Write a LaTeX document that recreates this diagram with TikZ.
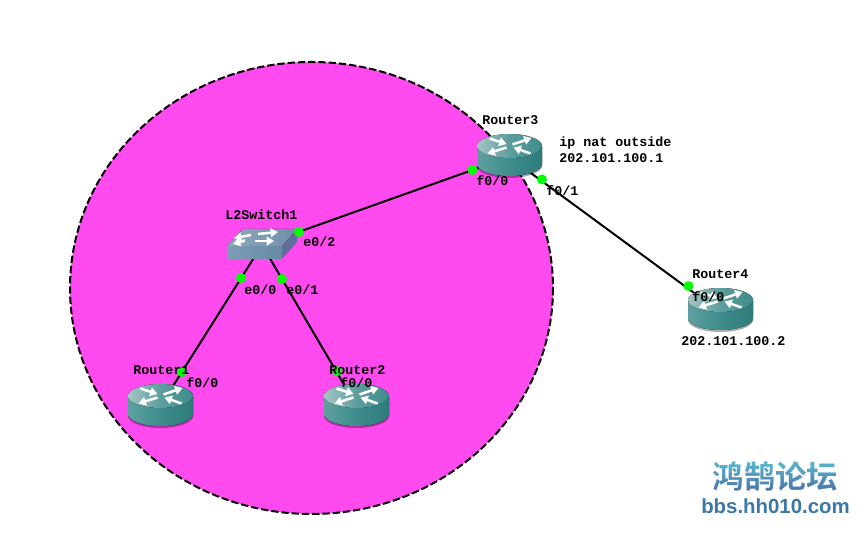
\documentclass[tikz,border=0pt]{standalone}
\usepackage{fontspec}
\usetikzlibrary{arrows.meta}
\setmonofont{Liberation Mono}
\newfontfamily\cjkbold[BoldFont=Noto Sans CJK SC Bold]{Noto Sans CJK SC}
\newfontfamily\wmlatin{Liberation Sans}
\definecolor{zonefill}{HTML}{FF4AEF}
\definecolor{portgreen}{HTML}{00FF00}
\definecolor{tealdark}{HTML}{2F7C7C}
\definecolor{tealmid}{HTML}{3F8C8C}
\definecolor{teallight}{HTML}{A5C4C4}
\definecolor{sideleft}{HTML}{5FA0A0}
\definecolor{swtop}{HTML}{8FA6BC}
\definecolor{swtopb}{HTML}{6F90A8}
\definecolor{swfronta}{HTML}{7E9CB6}
\definecolor{swfrontb}{HTML}{668AA2}
\definecolor{swside}{HTML}{5F6E9C}
\definecolor{wmtop}{HTML}{5CBCCE}
\definecolor{wmbot}{HTML}{4A6FA8}
\definecolor{wmurl}{HTML}{3B78A6}
\tikzset{
  x=0.75pt,y=-0.75pt,
  hub/.style={inner sep=0pt,minimum size=0pt},
  link/.style={draw=black,line width=1.5pt},
  port/.style={circle,fill=portgreen,inner sep=0pt,minimum size=7.5pt},
  lbl/.style={anchor=west,inner sep=0pt,font=\ttfamily\bfseries\fontsize{10}{10}\selectfont},
  flow/.style={draw=white,line width=1.9pt,-{Triangle[length=5.5pt,width=6.5pt]}},
  router/.pic={
    % soft shadow under the body
    \fill[black,opacity=.32] (-32.5,2) -- (32.5,2) -- (32.5,20) arc[x radius=32.5,y radius=12,start angle=0,end angle=180] -- cycle;
    % cylinder wall
    \fill[left color=sideleft,right color=tealdark,middle color=tealmid]
      (-32.5,0) -- (32.5,0) -- (32.5,18) arc[x radius=32.5,y radius=12,start angle=0,end angle=180] -- cycle;
    % lid
    \fill[left color=teallight,right color=tealmid,middle color=tealmid!70!teallight]
      (0,0) ellipse[x radius=32.5,y radius=12];
    \draw[flow] (-20,-7.5) -- (-3,-2);
    \draw[flow] (3,-1.5) -- (22,-8);
    \draw[flow] (-3,1.5) -- (-22,7.5);
    \draw[flow] (21,7.5) -- (4,1.5);
  },
  switchbox/.pic={
    \fill[swside] (55,-17) -- (55,-4) -- (40,13) -- (40,0) -- cycle;
    \fill[left color=swfronta,right color=swfrontb] (-15,0) rectangle (40,13);
    \fill[left color=swtop,right color=swtopb] (-15,0) -- (1,-17) -- (55,-17) -- (40,0) -- cycle;
    \draw[flow] (9,-11) -- (-8,-8);
    \draw[flow] (16,-12) -- (36,-14);
    \draw[flow] (3,-5.5) -- (-9,-2);
    \draw[flow] (13,-5) -- (32,-5);
  }
}
\begin{document}
\begin{tikzpicture}
\useasboundingbox (0,0) rectangle (867,534);
\fill[white] (0,0) rectangle (867,534);

% shaded zone around the inside network
\draw[fill=zonefill,line width=1.5pt,dash pattern=on 5.5pt off 2.2pt]
  (311.5,288) ellipse[x radius=241.5,y radius=226];

% device centres and port markers
\node[hub] (sw) at (262,245) {};
\node[hub] (r1) at (161,405) {};
\node[hub] (r2) at (356,405) {};
\node[hub] (r3) at (509,157) {};
\node[hub] (r4) at (720,312) {};

% cabling
\draw[link] (sw) -- (r3);
\draw[link] (sw) -- (r1);
\draw[link] (sw) -- (r2);
\draw[link] (r3) -- (r4);

% devices
\pic at (160.5,396) {router};
\pic at (356.5,396) {router};
\pic at (509.5,146) {router};
\pic at (720.5,300) {router};
\pic at (242,246) {switchbox};

% link-state markers
\node[port] (p1) at (299,232) {};
\node[port] (p2) at (472.5,170) {};
\node[port] (p3) at (241,278) {};
\node[port] (p4) at (182,372) {};
\node[port] (p5) at (282,279) {};
\node[port] (p6) at (337,371) {};
\node[port] (p7) at (542,179.5) {};
\node[port] (p8) at (688.5,286) {};

% device names and interfaces
\node[lbl] (t1)  at (133,370) {Router1};
\node[lbl] (t2)  at (186,383) {f0/0};
\node[lbl] (t3)  at (329,370) {Router2};
\node[lbl] (t4)  at (340,383) {f0/0};
\node[lbl] (t5)  at (225,215) {L2Switch1};
\node[lbl] (t6)  at (303,242) {e0/2};
\node[lbl] (t7)  at (244,290) {e0/0};
\node[lbl] (t8)  at (286,290) {e0/1};
\node[lbl] (t9)  at (482,120) {Router3};
\node[lbl] (t10) at (559,143) {ip nat outside};
\node[lbl] (t11) at (559,158) {202.101.100.1};
\node[lbl] (t12) at (476,181) {f0/0};
\node[lbl] (t13) at (546,191) {f0/1};
\node[lbl] (t14) at (692,274) {Router4};
\node[lbl] (t15) at (692,297) {f0/0};
\node[lbl] (t16) at (681,341) {202.101.100.2};

% site mark: black title tinted by a screened gradient
\node[inner sep=0pt,font=\cjkbold\bfseries\fontsize{23.5}{23.5}\selectfont,text=black] (wm) at (775.5,476) {鸿鹄论坛};
\fill[blend mode=screen,top color=wmtop,bottom color=wmbot] (705,459) rectangle (845,493);
\node[inner sep=0pt,font=\wmlatin\bfseries\fontsize{15.3}{15.3}\selectfont,text=wmurl] (url) at (775.5,506) {bbs.hh010.com};
\end{tikzpicture}
\end{document}
